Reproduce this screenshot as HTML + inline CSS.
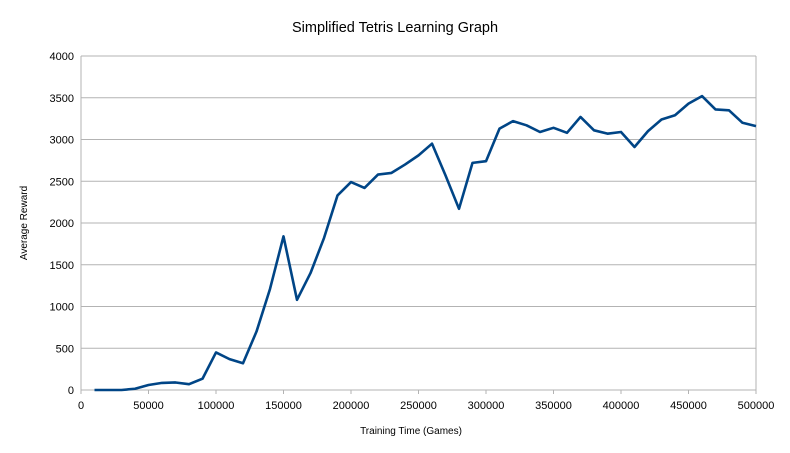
<!DOCTYPE html>
<html><head><meta charset="utf-8"><style>
body{margin:0;background:#fff;}
svg{display:block;font-family:"Liberation Sans",sans-serif;}
</style></head><body>
<svg id="chart" width="790" height="453">
<text x="395" y="32" text-anchor="middle" font-size="14.5" fill="#000">Simplified Tetris Learning Graph</text>
<g id="grid"></g><g id="axes"></g><g id="series"></g>
<text x="411" y="434" text-anchor="middle" font-size="10">Training Time (Games)</text>
<text transform="translate(27,223) rotate(-90)" text-anchor="middle" font-size="10">Average Reward</text>
</svg>
<script>
const games=[10000,20000,30000,40000,50000,60000,70000,80000,90000,100000,110000,120000,130000,140000,150000,160000,170000,180000,190000,200000,210000,220000,230000,240000,250000,260000,270000,280000,290000,300000,310000,320000,330000,340000,350000,360000,370000,380000,390000,400000,410000,420000,430000,440000,450000,460000,470000,480000,490000,500000];
const reward=[0,0,0,15,60,85,90,70,135,450,370,320,700,1210,1840,1080,1400,1820,2330,2490,2420,2580,2600,2700,2810,2950,2570,2170,2720,2740,3130,3220,3170,3090,3140,3080,3270,3110,3070,3090,2910,3100,3240,3290,3430,3520,3360,3350,3200,3160];
const xTicks=[0,50000,100000,150000,200000,250000,300000,350000,400000,450000,500000];
const yTicks=[0,500,1000,1500,2000,2500,3000,3500,4000];
const X0=81,X1=756,Y0=390,Y1=56;
const sx=v=>X0+(v-0)/500000*(X1-X0);
const sy=v=>Y0-(v/4000)*(Y0-Y1);
const NS="http://www.w3.org/2000/svg";
function mk(t,a,p){const e=document.createElementNS(NS,t);for(const k in a)e.setAttribute(k,a[k]);p.appendChild(e);return e;}
const grid=document.getElementById('grid'),axes=document.getElementById('axes'),ser=document.getElementById('series');
yTicks.forEach(v=>{
 const l=mk('line',{x1:X0,x2:X1,y1:sy(v),y2:sy(v),stroke:'#b3b3b3','stroke-width':1},grid);
 
 
 const t=mk('text',{x:X0-7,y:sy(v)+4,'text-anchor':'end','font-size':11},axes);
 t.textContent=v;
 
 
});
mk('line',{x1:X0,x2:X0,y1:Y1,y2:Y0,stroke:'#b3b3b3'},grid);
mk('line',{x1:X1,x2:X1,y1:Y1,y2:Y0,stroke:'#b3b3b3'},grid);
xTicks.forEach(v=>{
 mk('line',{x1:sx(v),x2:sx(v),y1:Y0,y2:Y0+4,stroke:'#b3b3b3'},grid);
 const t=mk('text',{x:sx(v),y:409,'text-anchor':'middle','font-size':11},axes);
 t.textContent=v;
 
 
});
const p=mk('polyline',{points:games.map((g,i)=>sx(g)+','+sy(reward[i])).join(' '),fill:'none',stroke:'#004586','stroke-width':2.6,'stroke-linejoin':'round'},ser);


</script>
</body></html>
